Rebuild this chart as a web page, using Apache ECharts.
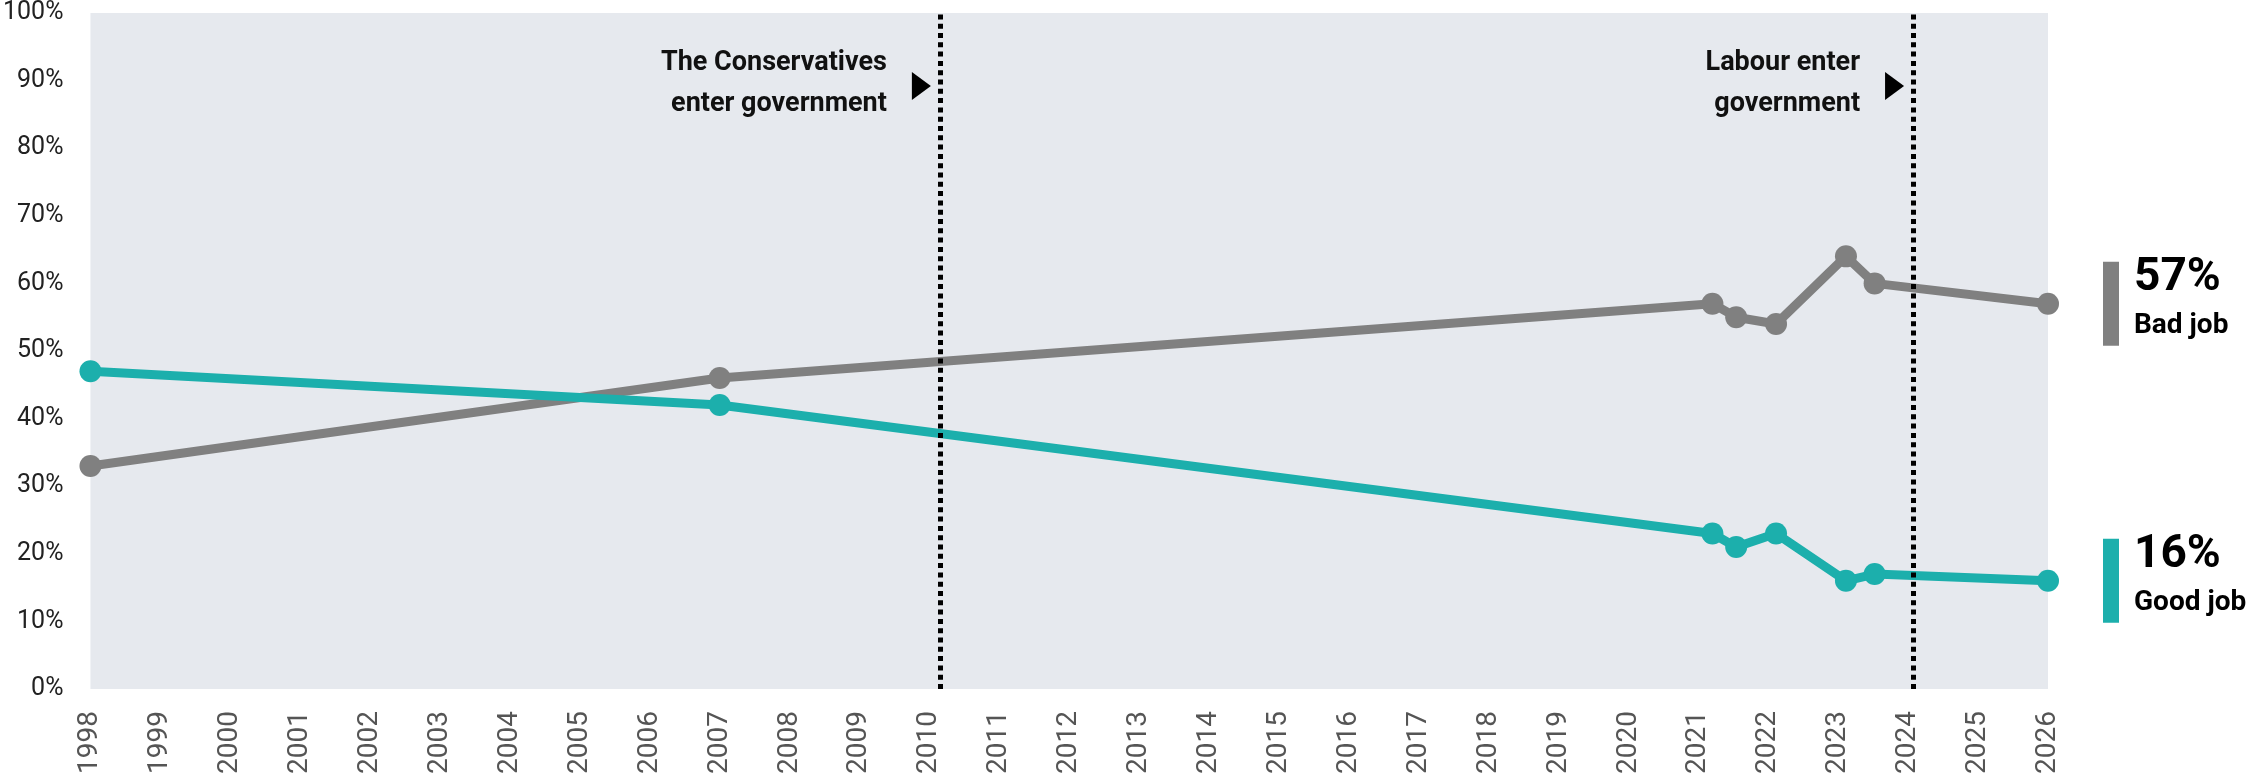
<!DOCTYPE html>
<html>
<head>
<meta charset="utf-8">
<script src="https://cdn.jsdelivr.net/npm/echarts@6/dist/echarts.min.js"></script>
<style>
  html, body { margin: 0; padding: 0; background: #fff; }
  #chart { width: 2260px; height: 782px; }
</style>
</head>
<body>
<div id="chart"></div>
<script>
// survey dates (fractional years) and shares
const years = [1998, 2007, 2021.2, 2021.54, 2022.11, 2023.11, 2023.52, 2026];
const badJob = [33, 46, 57, 55, 54, 64, 60, 57];
const goodJob = [47, 42, 23, 21, 23, 16, 17, 16];

const eventYears = [2010.15, 2024.07];
const eventLabels = ['The Conservatives\nenter government', 'Labour enter\ngovernment'];

const seriesNames = ['Bad job', 'Good job'];
const seriesColors = ['#808080', '#1cafac'];

const FONT = 'Roboto, "Noto Sans", sans-serif';

const chart = echarts.init(document.getElementById('chart'));

const pairs = (vals) => years.map((y, i) => [y, vals[i]]);

const option = {
  animation: false,
  grid: {
    left: 85, right: 212, top: 13, bottom: 93,
    show: true, backgroundColor: '#e6e9ee', borderWidth: 0
  },
  xAxis: {
    type: 'value', min: 1998, max: 2026, interval: 1,
    axisLine: { show: false },
    axisTick: { show: false },
    splitLine: { show: false },
    axisLabel: {
      rotate: 90, margin: 22, fontSize: 28, color: '#555',
      fontFamily: FONT, formatter: (v) => String(v)
    }
  },
  yAxis: {
    type: 'value', min: 0, max: 100, interval: 10,
    axisLine: { show: false },
    axisTick: { show: false },
    splitLine: { show: false },
    axisLabel: {
      margin: 27, fontSize: 25, color: '#222', fontFamily: FONT,
      formatter: '{value}%'
    }
  },
  series: [
    {
      name: seriesNames[0], type: 'line', data: pairs(badJob),
      symbol: 'circle', symbolSize: 22,
      lineStyle: { width: 9, color: seriesColors[0] },
      itemStyle: { color: seriesColors[0] }
    },
    {
      name: seriesNames[1], type: 'line', data: pairs(goodJob),
      symbol: 'circle', symbolSize: 22,
      lineStyle: { width: 9, color: seriesColors[1] },
      itemStyle: { color: seriesColors[1] }
    },
    {
      // holder for the dotted event lines, drawn above the data
      name: 'events', type: 'line', data: [], z: 10,
      markLine: {
        silent: true, symbol: 'none',
        label: { show: false },
        lineStyle: { color: '#000', width: 5, type: [5, 4.3], cap: 'butt' },
        data: eventYears.map((y) => ({ xAxis: y }))
      }
    }
  ]
};
chart.setOption(option);

// annotations placed from the axes
const graphics = [];
eventYears.forEach((yr, i) => {
  const x = chart.convertToPixel({ xAxisIndex: 0 }, yr);
  graphics.push({
    type: 'text', x: x - 53, y: 84,
    style: {
      text: eventLabels[i], fill: '#111', font: 'bold 27px ' + FONT,
      align: 'right', verticalAlign: 'middle', lineHeight: 41
    }
  });
  graphics.push({
    type: 'polygon',
    shape: { points: [[x - 28, 72], [x - 9, 86], [x - 28, 100]] },
    style: { fill: '#000' }
  });
});

const lastVals = [badJob[badJob.length - 1], goodJob[goodJob.length - 1]];
lastVals.forEach((v, i) => {
  const cy = chart.convertToPixel({ yAxisIndex: 0 }, v);
  graphics.push({
    type: 'rect', shape: { x: 2103, y: cy - 42, width: 16, height: 84 },
    style: { fill: seriesColors[i] }
  });
  graphics.push({
    type: 'text', x: 2134, y: cy - 25,
    style: { text: v + '%', fill: '#000', font: 'bold 46px ' + FONT, verticalAlign: 'middle' }
  });
  graphics.push({
    type: 'text', x: 2134, y: cy + 22,
    style: { text: seriesNames[i], fill: '#000', font: 'bold 28px ' + FONT, verticalAlign: 'middle' }
  });
});

chart.setOption({ graphic: graphics });
</script>
</body>
</html>
